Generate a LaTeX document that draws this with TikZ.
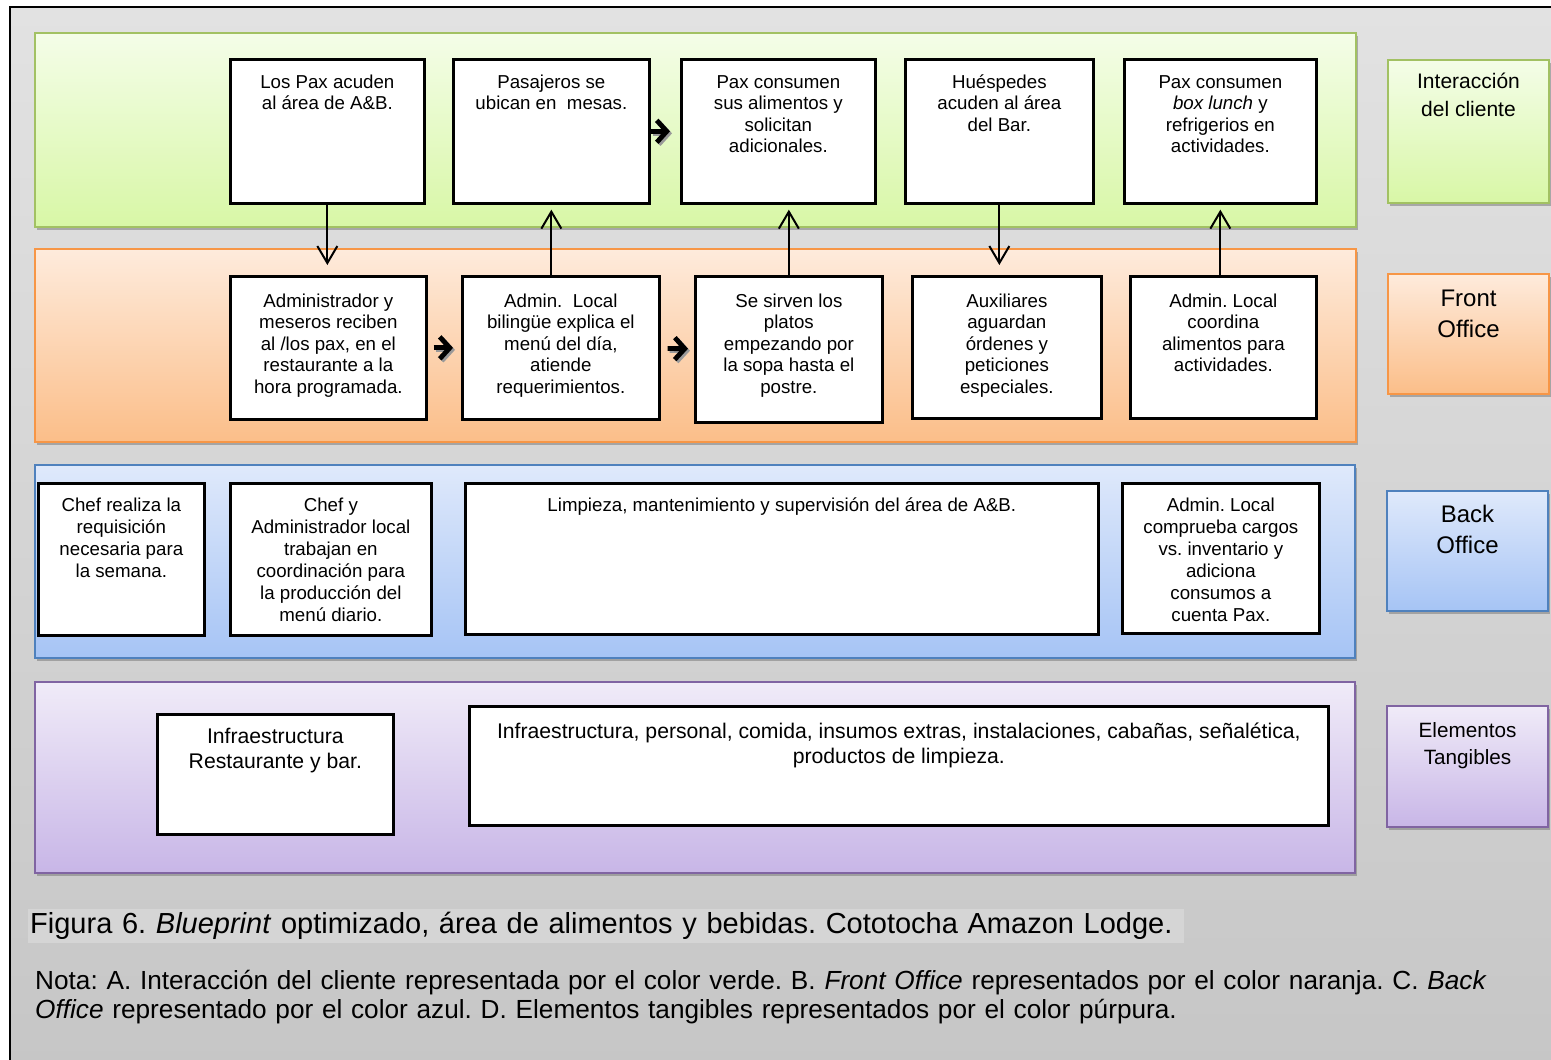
\documentclass[tikz,border=0pt]{standalone}
\usepackage{fontspec}
\setmainfont{Liberation Sans}
\usetikzlibrary{arrows.meta,shadows}
\frenchspacing

\definecolor{bgtop}{HTML}{E2E2E2}
\definecolor{bgbot}{HTML}{C6C6C6}
\definecolor{capbg}{HTML}{D5D5D5}
\definecolor{gtop}{HTML}{F4FDE8}
\definecolor{gbot}{HTML}{D8F7A6}
\definecolor{gline}{HTML}{A2C163}
\definecolor{otop}{HTML}{FEEBDC}
\definecolor{obot}{HTML}{FBBE89}
\definecolor{oline}{HTML}{F79646}
\definecolor{btop}{HTML}{DFE9FB}
\definecolor{bbot}{HTML}{A6C4F5}
\definecolor{bline}{HTML}{4F81BD}
\definecolor{ptop}{HTML}{F0EBF8}
\definecolor{pbot}{HTML}{C8B6E7}
\definecolor{pline}{HTML}{8064A2}

% box text: width, height, first baseline, text
\newcommand{\boxtxt}[4]{\begin{minipage}[c][#2pt][t]{#1pt}\centering\rule{0pt}{#3pt}#4\end{minipage}}

\begin{document}
\begin{tikzpicture}[x=1pt,y=-1pt,
  lane/.style={line width=2pt, drop shadow={shadow xshift=2pt, shadow yshift=-3pt, fill=black!55, opacity=0.5}},
  glane/.style={lane, draw=gline, top color=gtop, bottom color=gbot},
  olane/.style={lane, draw=oline, top color=otop, bottom color=obot},
  blane/.style={lane, draw=bline, top color=btop, bottom color=bbot},
  plane/.style={lane, draw=pline, top color=ptop, bottom color=pbot},
  cell/.style={draw, line width=2.7pt, fill=white, inner sep=0pt, anchor=north west, font=\fontsize{18.7}{21.5}\selectfont},
  tag/.style={inner sep=0pt, anchor=north west},
  flow/.style={line width=2pt, -{Straight Barb[length=17pt,width=20pt]}},
  chev/.style={line width=4.8pt, -{Straight Barb[length=10pt,width=22pt]}}]
\useasboundingbox (0,0) rectangle (1551,1060);

% page and frame
\fill[white] (0,0) rectangle (1551,1060);
\shade[top color=bgtop, bottom color=bgbot] (10,7) rectangle (1560,1070);
\draw[line width=2.5pt] (10,1070) -- (10,7) -- (1560,7);

% lanes
\path[glane] (35,33) rectangle (1356,227);
\path[olane] (35,249) rectangle (1356,442);
\path[blane] (35,465) rectangle (1355,658);
\path[plane] (35,682) rectangle (1355,873);

% lane tags
\node[tag, glane, font=\fontsize{21}{28}\selectfont] (lab1) at (1387,59) {\boxtxt{161}{143}{28}{Interacción\\del cliente}};
\node[tag, olane, font=\fontsize{24}{31}\selectfont] (lab2) at (1387,273) {\boxtxt{161}{120}{32}{Front\\Office}};
\node[tag, blane, font=\fontsize{24}{31}\selectfont] (lab3) at (1386,490) {\boxtxt{161}{120}{31}{Back\\Office}};
\node[tag, plane, font=\fontsize{20.7}{27}\selectfont] (lab4) at (1386,705) {\boxtxt{161}{121}{31}{Elementos\\Tangibles}};

% client interaction
\node[cell] (b1) at (229,58) {\boxtxt{194}{144}{29}{Los Pax acuden\\al área de A\&B.}};
\node[cell] (b2) at (452,58) {\boxtxt{196}{144}{29}{Pasajeros se\\ubican en\ \ mesas.}};
\node[cell] (b3) at (680,58) {\boxtxt{194}{144}{29}{Pax consumen\\sus alimentos y\\solicitan\\adicionales.}};
\node[cell] (b4) at (904,58) {\boxtxt{188}{144}{29}{Huéspedes\\acuden al área\\del Bar.}};
\node[cell] (b5) at (1123,58) {\boxtxt{192}{144}{29}{Pax consumen\\\textit{box lunch} y\\refrigerios en\\actividades.}};

% front office
\node[cell] (b6) at (229,275) {\boxtxt{196}{143}{31}{Administrador y\\meseros reciben\\al /los pax, en el\\restaurante a la\\hora programada.}};
\node[cell] (b7) at (461,275) {\boxtxt{197}{143}{31}{Admin.\ \ Local\\bilingüe explica el\\menú del día,\\atiende\\requerimientos.}};
\node[cell] (b8) at (694,275) {\boxtxt{187}{146}{31}{Se sirven los\\platos\\empezando por\\la sopa hasta el\\postre.}};
\node[cell] (b9) at (911,275) {\boxtxt{189}{142}{31}{Auxiliares\\aguardan\\órdenes y\\peticiones\\especiales.}};
\node[cell] (b10) at (1129,275) {\boxtxt{186}{142}{31}{Admin. Local\\coordina\\alimentos para\\actividades.}};

% back office
\node[cell, font=\fontsize{18.7}{22}\selectfont] (b11) at (37,482) {\boxtxt{166}{152}{28}{Chef realiza la\\requisición\\necesaria para\\la semana.}};
\node[cell, font=\fontsize{18.7}{22}\selectfont] (b12) at (229,482) {\boxtxt{201}{152}{28}{Chef y\\Administrador local\\trabajan en\\coordinación para\\la producción del\\menú diario.}};
\node[cell, font=\fontsize{18.7}{22}\selectfont] (b13) at (464,482) {\boxtxt{633}{151}{28}{Limpieza, mantenimiento y supervisión del área de A\&B.}};
\node[cell, font=\fontsize{18.7}{22}\selectfont] (b14) at (1121,482) {\boxtxt{197}{150}{28}{Admin. Local\\comprueba cargos\\vs. inventario y\\adiciona\\consumos a\\cuenta Pax.}};

% tangible elements
\node[cell, font=\fontsize{21.2}{25}\selectfont] (b15) at (156,713) {\boxtxt{236}{120}{29}{Infraestructura\\Restaurante y bar.}};
\node[cell, font=\fontsize{21.2}{25}\selectfont] (b16) at (468,705) {\boxtxt{859}{119}{32}{Infraestructura, personal, comida, insumos extras, instalaciones, cabañas, señalética,\\productos de limpieza.}};

% vertical flows
\draw[flow, shorten >=10pt] (b1.south) -- (b1.south |- b6.north);
\draw[flow, shorten >=5pt] (b7.north -| b2.south) -- (b2.south);
\draw[flow, shorten >=5pt] (b8.north) -- (b8.north |- b3.south);
\draw[flow, shorten >=10pt] (b4.south) -- (b4.south |- b9.north);
\draw[flow, shorten >=5pt] (b10.north -| b5.south) -- (b5.south);

% chevrons with shadow
\foreach \a/\b/\s/\t in {b2/b3/0/10, b6/b7/6/8, b7/b8/7/6}{
  \draw[chev, black!40, shorten <=\s pt, shorten >=\t pt, transform canvas={shift={(2pt,-2pt)}}] (\a) -- (\b);
  \draw[chev, shorten <=\s pt, shorten >=\t pt] (\a) -- (\b);
}

% caption and note
\node[anchor=north west, fill=capbg, inner xsep=2pt, inner ysep=0pt, minimum height=34pt, text width=1152pt, align=left, font=\fontsize{29}{33}\selectfont] (cap) at (28,909) {Figura 6. \textit{Blueprint} optimizado, área de alimentos y bebidas. Cototocha Amazon Lodge.};
\node[anchor=north west, inner sep=0pt, text width=1500pt, align=left, font=\fontsize{26.2}{28.5}\selectfont] (nota) at (35,970) {Nota: A. Interacción del cliente representada por el color verde. B. \textit{Front Office} representados por el color naranja. C. \textit{Back}\\\textit{Office} representado por el color azul. D. Elementos tangibles representados por el color púrpura.};
\end{tikzpicture}
\end{document}
